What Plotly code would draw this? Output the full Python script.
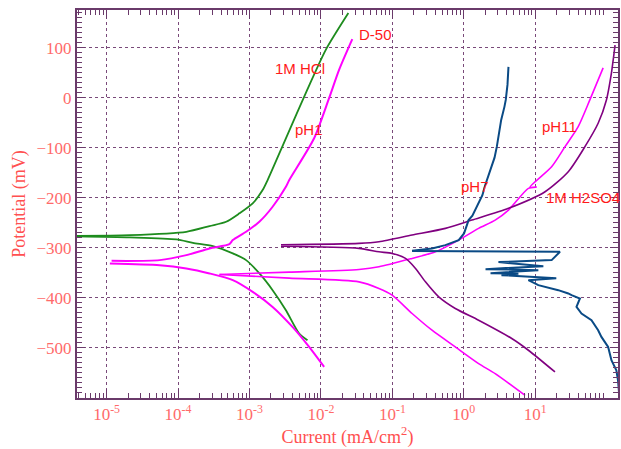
import plotly.graph_objects as go

# ---- data: log10(current, mA/cm2) and potential (mV) ----
hcl_an_logi = [-5.45, -4.675, -3.884, -3.559, -3.326, -3.141, -2.955, -2.816, -2.746, -2.490, -2.192, -1.932, -1.616]
hcl_an_e = [-276, -274.6, -268, -256.6, -248, -231.2, -211.2, -184.6, -164.6, -81.2, 15.4, 95.4, 168.8]
hcl_ca_logi = [-5.45, -4.675, -4.024, -3.792, -3.513, -3.234, -3.047, -2.861, -2.676, -2.490, -2.304, -2.188]
hcl_ca_e = [-277, -279.2, -283.2, -290, -296.6, -311.2, -324.6, -351.2, -384.6, -424.6, -471.2, -484.6]

ph1_an_logi = [-4.930, -4.257, -3.884, -3.559, -3.280, -3.234, -3.047, -2.862, -2.676, -2.490, -2.443, -2.095, -1.886, -1.746, -1.561]
ph1_an_e = [-326, -324.6, -314.6, -301.2, -292.6, -284.6, -268, -248, -218, -178, -164.6, -81.2, -1.2, 55.4, 116.8]
ph1_ca_logi = [-4.954, -4.257, -3.884, -3.559, -3.234, -2.955, -2.676, -2.398, -2.165, -1.955]
ph1_ca_e = [-331.2, -334.6, -341.2, -351.2, -364.6, -388, -418, -458, -498, -538]

ph11_an_logi = [-3.420, -2.444, -1.467, -1.188, -0.724, -0.397, -0.072, 0.207, 0.439, 0.625, 0.904, 1.015, 0.92, 1.229, 1.416, 1.601, 1.764, 1.950]
ph11_an_e = [-353.2, -348.6, -343.2, -338, -321.2, -308, -284.6, -261.2, -244.6, -224.6, -181.2, -178.6, -179.6, -138, -98, -58, -4.6, 59.4]
ph11_ca_logi = [-3.420, -2.444, -1.467, -1.188, -1.003, -0.724, -0.445, -0.119, 0.207, 0.439, 0.858]
ph11_ca_e = [-353.2, -360.6, -368, -381.2, -394.6, -431.2, -464.6, -498, -531.2, -551.2, -594.6]

h2so4_an_logi = [-2.559, -1.467, -1.188, -0.724, -0.258, 0.113, 0.625, 1.137, 1.462, 1.695, 1.880, 1.996, 2.062, 2.117]
h2so4_an_e = [-294, -291.2, -288, -274.6, -261.2, -244.6, -221.2, -188, -148, -98, -51.2, -4.6, 45.4, 105]
h2so4_ca_logi = [-2.559, -1.467, -1.188, -1.003, -0.816, -0.676, -0.537, -0.351, -0.119, 0.207, 0.671, 0.904, 1.276]
h2so4_ca_e = [-297, -301.2, -308, -311.2, -321.2, -341.2, -368, -398, -421.2, -444.6, -481.2, -504.6, -548]

ph7_an_logi = [-0.724, -0.445, -0.258, -0.072, 0.003, 0.067, 0.12, 0.183, 0.26, 0.300, 0.392, 0.43, 0.462, 0.523, 0.569, 0.587, 0.611, 0.625]
ph7_an_e = [-306, -301.2, -294.6, -284.6, -271.2, -244.6, -236, -218, -195, -174.6, -138, -120, -98, -44.6, -18, -4.6, 25.4, 61.4]
ph7_ca_logi = [-0.724, 1.346, 1.229, 0.485, 1.113, 0.304, 1.043, 0.374, 0.764, 0.527, 1.294, 0.904, 1.043, 1.322, 1.462, 1.508,
               1.625, 1.577, 1.647, 1.787, 1.880, 1.926, 2.020, 2.066, 2.135, 2.158, 2.172]
ph7_ca_e = [-306.6, -308, -324.6, -328.6, -336.6, -342.6, -344.6, -350.6, -351.6, -354.6, -360.6, -364.6, -374.6, -384.6, -391.2, -394.6,
            -401.2, -418, -431.2, -444.6, -464.6, -478, -498, -524.6, -544.6, -564.6, -588.6]

labels = ["1M HCl", "D-50", "pH1", "pH7", "pH11", "1M H2SO4"]
label_logi = [-2.290, -1.234, -2.165, 0.160, 1.333, 1.664]
label_e = [57.4, 125.4, -63, -178, -58, -199.6]

x_tickvals = [1e-5, 1e-4, 1e-3, 1e-2, 1e-1, 1e0, 1e1]
x_ticktext = ["10<sup>-5</sup>", "10<sup>-4</sup>", "10<sup>-3</sup>", "10<sup>-2</sup>",
              "10<sup>-1</sup>", "10<sup>0</sup>", "10<sup>1</sup>"]
y_tickvals = [-500, -400, -300, -200, -100, 0, 100]

GREEN = "#1E8C1E"
MAGENTA = "#FF00FF"
PURPLE = "#800080"
NAVY = "#0A4A85"

series = [
    (hcl_an_logi, hcl_an_e, GREEN, 1.8, "spline"),
    (hcl_ca_logi, hcl_ca_e, GREEN, 1.8, "spline"),
    (ph1_an_logi, ph1_an_e, MAGENTA, 2.0, "spline"),
    (ph1_ca_logi, ph1_ca_e, MAGENTA, 2.0, "spline"),
    (ph11_an_logi, ph11_an_e, MAGENTA, 1.6, "spline"),
    (ph11_ca_logi, ph11_ca_e, MAGENTA, 1.6, "spline"),
    (h2so4_an_logi, h2so4_an_e, PURPLE, 1.6, "spline"),
    (h2so4_ca_logi, h2so4_ca_e, PURPLE, 1.6, "spline"),
    (ph7_an_logi, ph7_an_e, NAVY, 2.0, "linear"),
    (ph7_ca_logi, ph7_ca_e, NAVY, 2.0, "linear"),
]

fig = go.Figure()
for lx, e, col, w, shape in series:
    fig.add_trace(go.Scatter(x=[10 ** v for v in lx], y=e, mode="lines",
                             line=dict(color=col, width=w, shape=shape, smoothing=0.7),
                             showlegend=False, hoverinfo="skip"))

for t, lx, e in zip(labels, label_logi, label_e):
    fig.add_annotation(x=lx, y=e, xref="x", yref="y", text=t, showarrow=False,
                       font=dict(family="Liberation Sans, Arial", size=15, color="#FF1A1A"))

minor_x = [k * 10 ** d for d in range(-6, 3) for k in range(2, 10)]

AXC = "#6A3A6A"
GRIDC = "#7A4A7A"
TICKFONT = dict(family="Liberation Serif, Times New Roman", size=17, color="#FF6A6A")
TITLEFONT = dict(family="Liberation Serif, Times New Roman", size=18, color="#FF5050")

fig.update_layout(
    width=621, height=449,
    margin=dict(l=77, r=1, t=10, b=51),
    paper_bgcolor="white", plot_bgcolor="white",
    xaxis=dict(type="log", range=[-5.414, 2.158],
               tickvals=x_tickvals, ticktext=x_ticktext,
               ticks="inside", ticklen=9, tickcolor=AXC, tickwidth=1,
               minor=dict(tickvals=minor_x, ticks="inside", ticklen=5, tickcolor=AXC, showgrid=False),
               showline=True, linecolor=AXC, linewidth=2, mirror="ticks",
               showgrid=True, gridcolor=GRIDC, griddash="dot", gridwidth=1.2,
               tickfont=TICKFONT, zeroline=False,
               title=dict(text="Current (mA/cm<sup>2</sup>)", font=TITLEFONT, standoff=4)),
    yaxis=dict(range=[-600, 175], tickvals=y_tickvals,
               ticks="inside", ticklen=8, tickcolor=AXC, tickwidth=1,
               minor=dict(dtick=10, ticks="inside", ticklen=5, tickcolor=AXC, showgrid=False),
               showline=True, linecolor=AXC, linewidth=2, mirror="ticks",
               showgrid=True, gridcolor=GRIDC, griddash="dot", gridwidth=1.2,
               tickfont=TICKFONT, zeroline=False,
               title=dict(text="Potential (mV)", font=TITLEFONT, standoff=6)),
)

fig.write_html("out.html")
